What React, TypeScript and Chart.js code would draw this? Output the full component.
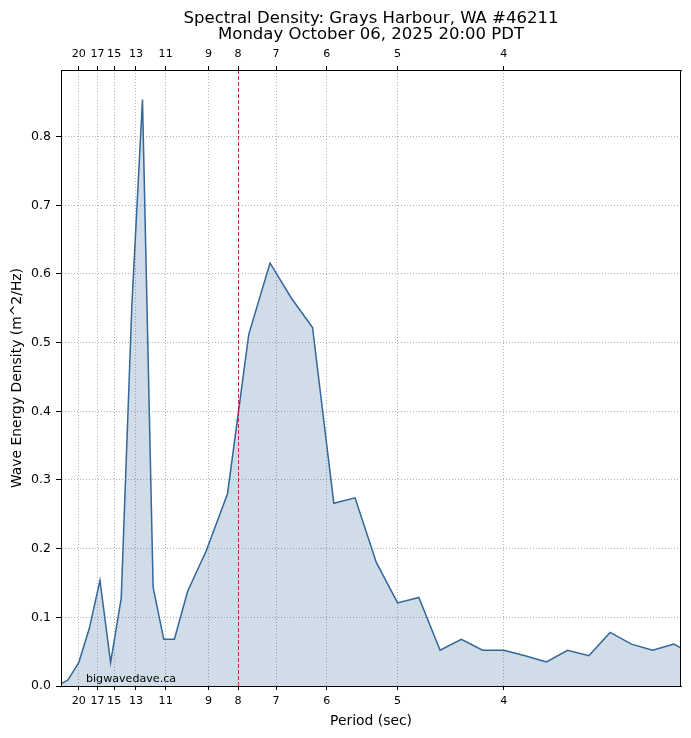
import React, { useEffect, useRef } from 'react';
import { Chart, registerables } from 'chart.js';

Chart.register(...registerables);

// Frequency bins (Hz)
const frequencies = [
  0.04, 0.045, 0.05, 0.055, 0.06, 0.065, 0.07, 0.075, 0.08, 0.085, 0.09, 0.095,
  0.10125, 0.11, 0.12, 0.13, 0.14, 0.15, 0.16, 0.17, 0.18, 0.19, 0.2, 0.21, 0.22,
  0.23, 0.24, 0.25, 0.26, 0.27, 0.28, 0.29, 0.3, 0.31, 0.32, 0.33, 0.34,
];
// Wave energy density (m^2/Hz)
const density = [
  0.0, 0.009, 0.034, 0.084, 0.154, 0.034, 0.128, 0.554, 0.854, 0.144, 0.068, 0.068,
  0.138, 0.197, 0.28, 0.512, 0.616, 0.565, 0.522, 0.266, 0.274, 0.18, 0.121, 0.129,
  0.052, 0.068, 0.052, 0.052, 0.044, 0.035, 0.052, 0.044, 0.078, 0.061, 0.052, 0.061, 0.044,
];
const periodTicks = [20, 17, 15, 13, 11, 9, 8, 7, 6, 5, 4];
const yTicks = [0, 0.1, 0.2, 0.3, 0.4, 0.5, 0.6, 0.7, 0.8];
const titleLines = ['Spectral Density: Grays Harbour, WA #46211', 'Monday October 06, 2025 20:00 PDT'];
const markerPeriod = 8;
const watermark = 'bigwavedave.ca';
const xMinPeriod = 24;
const xMaxPeriod = 3;
const yMax = 0.897;

const FONT = "'DejaVu Sans', sans-serif";

export default function App() {
  const ref = useRef<HTMLCanvasElement | null>(null);
  useEffect(() => {
    const canvas = ref.current;
    if (!canvas) return;
    const overlay = {
      id: 'overlay',
      afterDatasetsDraw(chart: any) {
        const { ctx, chartArea, scales } = chart;
        const x = scales.x.getPixelForValue(1 / markerPeriod);
        ctx.save();
        ctx.strokeStyle = 'rgba(200,20,20,0.85)';
        ctx.lineWidth = 1;
        ctx.setLineDash([4, 2]);
        ctx.beginPath();
        ctx.moveTo(Math.round(x) + 0.5, chartArea.top);
        ctx.lineTo(Math.round(x) + 0.5, chartArea.bottom);
        ctx.stroke();
        ctx.restore();
      },
      afterDraw(chart: any) {
        const { ctx, chartArea } = chart;
        ctx.save();
        ctx.strokeStyle = '#000';
        ctx.lineWidth = 1;
        ctx.setLineDash([]);
        ctx.strokeRect(
          Math.round(chartArea.left) + 0.5,
          Math.round(chartArea.top) + 0.5,
          Math.round(chartArea.right - chartArea.left) - 1,
          Math.round(chartArea.bottom - chartArea.top)
        );
        ctx.fillStyle = '#000';
        ctx.textAlign = 'center';
        ctx.textBaseline = 'alphabetic';
        ctx.font = `16.5px ${FONT}`;
        const cx = (chartArea.left + chartArea.right) / 2;
        ctx.fillText(titleLines[0], cx, 22.7);
        ctx.fillText(titleLines[1], cx, 39);
        ctx.textAlign = 'left';
        ctx.font = `11.1px ${FONT}`;
        ctx.fillText(watermark, chartArea.left + 25, chartArea.bottom - 4);
        ctx.restore();
      },
    };

    const periodTickBuilder = (scale: any) => {
      scale.ticks = periodTicks.map((p) => ({ value: 1 / p }));
    };

    const chart = new Chart(canvas, {
      type: 'line',
      data: {
        datasets: [
          {
            data: frequencies.map((f, i) => ({ x: f, y: density[i] })),
            borderColor: '#336699',
            borderWidth: 1.5,
            backgroundColor: 'rgba(51,102,153,0.23)',
            fill: 'origin',
            pointRadius: 0,
            tension: 0,
          },
        ],
      },
      options: {
        animation: false,
        responsive: false,
        events: [],
        layout: { padding: { top: 40, right: 10, bottom: 0, left: 0 } },
        plugins: { legend: { display: false }, tooltip: { enabled: false }, title: { display: false } },
        scales: {
          x: {
            type: 'linear',
            position: 'bottom',
            min: 1 / xMinPeriod,
            max: 1 / xMaxPeriod,
            afterBuildTicks: periodTickBuilder,
            afterFit: (s: any) => { s.height = 52; },
            ticks: {
              autoSkip: false,
              maxRotation: 0,
              padding: 4,
              color: '#000',
              font: { family: FONT, size: 11.1 },
              callback: (v: any) => String(Math.round(1 / Number(v))),
            },
            grid: {
              color: '#b0b0b0',
              lineWidth: 1,
              drawTicks: true,
              tickLength: 4,
              tickColor: '#000',
              tickWidth: 1,
              tickBorderDash: [],
            },
            border: { display: true, color: '#000', dash: [1, 2] },
            title: {
              display: true,
              text: 'Period (sec)',
              color: '#000',
              font: { family: FONT, size: 13.9 },
              padding: { top: 0, bottom: 8.5 },
            },
          },
          x2: {
            type: 'linear',
            position: 'top',
            min: 1 / xMinPeriod,
            max: 1 / xMaxPeriod,
            afterBuildTicks: periodTickBuilder,
            afterFit: (s: any) => { s.height = 30; },
            ticks: {
              autoSkip: false,
              maxRotation: 0,
              padding: 5,
              color: '#000',
              font: { family: FONT, size: 11.1 },
              callback: (v: any) => String(Math.round(1 / Number(v))),
            },
            grid: {
              drawOnChartArea: false,
              drawTicks: true,
              tickLength: 4,
              tickColor: '#000',
              tickWidth: 1,
              tickBorderDash: [],
            },
            border: { display: true, color: '#000' },
          },
          y: {
            type: 'linear',
            position: 'left',
            min: 0,
            max: yMax,
            afterBuildTicks: (s: any) => { s.ticks = yTicks.map((v) => ({ value: v })); },
            afterFit: (s: any) => { s.width = 61; },
            ticks: {
              padding: 5,
              color: '#000',
              font: { family: FONT, size: 12.5 },
              callback: (v: any) => Number(v).toFixed(1),
            },
            grid: {
              color: '#b0b0b0',
              lineWidth: 1,
              drawTicks: true,
              tickLength: 5,
              tickColor: '#000',
              tickWidth: 1,
              tickBorderDash: [],
            },
            border: { display: true, color: '#000', dash: [1, 2] },
            title: {
              display: true,
              text: 'Wave Energy Density (m^2/Hz)',
              color: '#000',
              font: { family: FONT, size: 13.9 },
              padding: { top: 9.5, bottom: 0 },
            },
          },
        },
      },
      plugins: [overlay],
    });
    return () => chart.destroy();
  }, []);

  return (
    <div style={{ position: 'absolute', left: 0, top: 0, width: 691, height: 738 }}>
      <canvas ref={ref} width={691} height={738} style={{ display: 'block' }} />
    </div>
  );
}
